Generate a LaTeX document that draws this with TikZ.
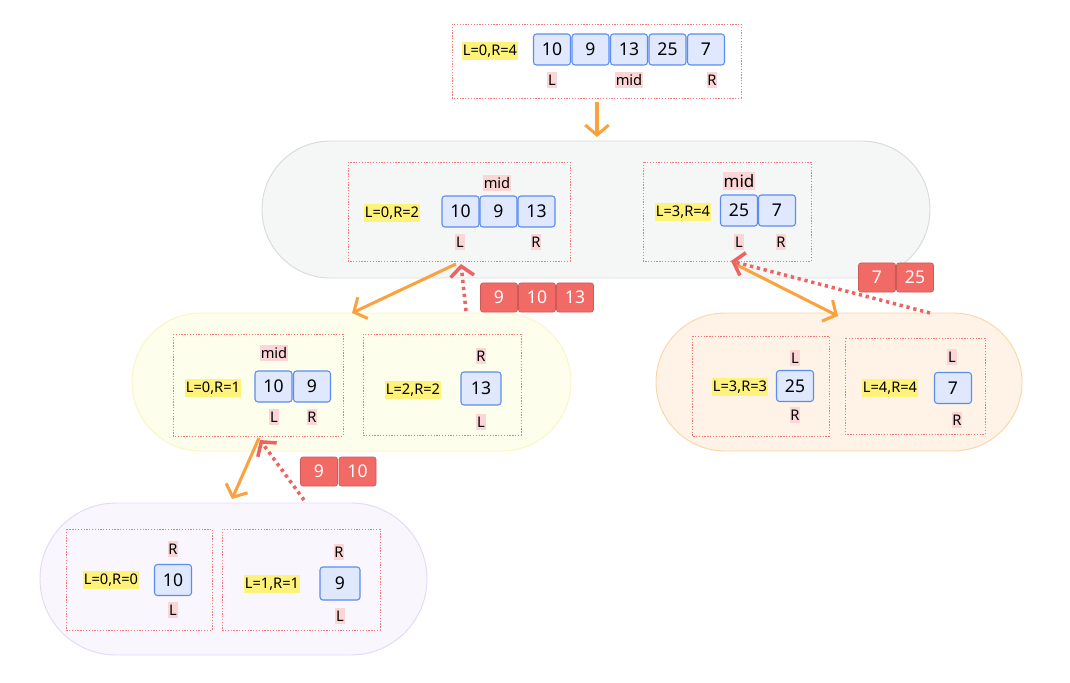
\documentclass[tikz,border=0pt]{standalone}
\usepackage{fontspec}
\setmainfont{Noto Sans}
\usetikzlibrary{arrows.meta}

\definecolor{cellfill}{HTML}{DFE8FC}
\definecolor{celldraw}{HTML}{5B8DEF}
\definecolor{hiyellow}{HTML}{FFF27A}
\definecolor{hipink}{HTML}{FCD6D6}
\definecolor{resred}{HTML}{F26A66}
\definecolor{dotred}{HTML}{F47878}
\definecolor{backred}{HTML}{F06262}
\definecolor{arrorange}{HTML}{F9A23F}
\definecolor{graypill}{HTML}{F5F6F6}
\definecolor{graypilld}{HTML}{D9DADA}
\definecolor{yelpill}{HTML}{FEFEEC}
\definecolor{yelpilld}{HTML}{FAF5C4}
\definecolor{orapill}{HTML}{FEF3E6}
\definecolor{orapilld}{HTML}{FCD5A5}
\definecolor{purpill}{HTML}{F9F6FE}
\definecolor{purpilld}{HTML}{E2DAF6}

\tikzset{
  cell/.style={draw=celldraw, fill=cellfill, line width=0.9pt, rounded corners=2.5pt,
    minimum width=1.11cm, minimum height=0.93cm, inner sep=0pt, font=\fontsize{15}{17}\selectfont},
  res/.style={draw=resred!85!black, fill=resred, line width=0.5pt, rounded corners=2pt,
    minimum width=1.11cm, minimum height=0.87cm, inner sep=0pt, text=white, font=\fontsize{15}{17}\selectfont},
  hl/.style={fill=hiyellow, inner xsep=1pt, inner ysep=2.5pt, font=\fontsize{12.5}{14}\selectfont},
  mk/.style={fill=hipink, inner xsep=0.6pt, inner ysep=2pt, font=\fontsize{12.5}{14}\selectfont},
  frame/.style={draw=dotred, line width=0.8pt, dash pattern=on 1.1pt off 1.3pt},
  ora/.style={draw=arrorange, line width=2.6pt, -{Straight Barb[length=8.5pt,width=20pt]}},
  back/.style={draw=backred, line width=3pt, dash pattern=on 2.8pt off 3.2pt,
    -{Straight Barb[length=8.5pt,width=20pt]}}
}

\begin{document}
\begin{tikzpicture}[x=0.03cm,y=-0.03cm]
  \useasboundingbox (0,0) rectangle (1070,683);

  % top array
  \draw[frame] (452,24) rectangle (741,98);
  \node[hl] (lt) at (490,51) {L=0,R=4};
  \node[cell] (t1) at (552,49.5) {10};
  \node[cell] (t2) at (590.5,49.5) {9};
  \node[cell] (t3) at (629,49.5) {13};
  \node[cell] (t4) at (667.5,49.5) {25};
  \node[cell] (t5) at (706,49.5) {7};
  \node[mk] (tl) at (552,80) {L};
  \node[mk] (tm) at (629,80) {mid};
  \node[mk] (tr) at (712,80) {R};

  % level 1
  \draw[fill=graypill, draw=graypilld, line width=0.8pt, rounded corners=2.05cm] (262,141) rectangle (930,278);
  \draw[frame] (348,162) rectangle (570,261);
  \node[hl] (la) at (392,213) {L=0,R=2};
  \node[cell] (a1) at (460.5,211.5) {10};
  \node[cell] (a2) at (498.5,211.5) {9};
  \node[cell] (a3) at (536.5,211.5) {13};
  \node[mk] (am) at (497,183) {mid};
  \node[mk] (al) at (460,242) {L};
  \node[mk] (ar) at (536,242) {R};

  \draw[frame] (643,162) rectangle (811,261);
  \node[hl] (lb) at (683,212) {L=3,R=4};
  \node[cell] (b1) at (739,210.5) {25};
  \node[cell] (b2) at (777,210.5) {7};
  \node[mk, font=\fontsize{14.5}{16}\selectfont] (bm) at (739,181) {mid};
  \node[mk] (bl) at (739,242) {L};
  \node[mk] (br) at (781,242) {R};

  % level 2 left
  \draw[fill=yelpill, draw=yelpilld, line width=0.8pt, rounded corners=2.07cm] (132,313) rectangle (571,451);
  \draw[frame] (173,334) rectangle (343,436);
  \node[hl] (lc) at (213,388) {L=0,R=1};
  \node[cell] (c1) at (273.5,386.5) {10};
  \node[cell] (c2) at (312,386.5) {9};
  \node[mk] (cm) at (274,353) {mid};
  \node[mk] (cl) at (274,417) {L};
  \node[mk] (cr) at (312,417) {R};

  \draw[frame] (363,334) rectangle (521,435);
  \node[hl] (ld) at (413,390) {L=2,R=2};
  \node[cell, minimum width=1.2cm, minimum height=0.99cm] (d1) at (481,388.5) {13};
  \node[mk] (dr) at (481,356) {R};
  \node[mk] (dl) at (481,422) {L};

  % level 2 right
  \draw[fill=orapill, draw=orapilld, line width=0.8pt, rounded corners=2.07cm] (656,313) rectangle (1022,451);
  \draw[frame] (692,336) rectangle (829,436);
  \node[hl] (le) at (740,387) {L=3,R=3};
  \node[cell] (e1) at (795,386) {25};
  \node[mk] (el) at (795,358) {L};
  \node[mk] (er) at (795,415) {R};

  \draw[frame] (845,338) rectangle (985,434);
  \node[hl] (lf) at (890,388) {L=4,R=4};
  \node[cell] (f1) at (953,388) {7};
  \node[mk] (fl) at (952,357) {L};
  \node[mk] (fr) at (957,420) {R};

  % level 3
  \draw[fill=purpill, draw=purpilld, line width=0.8pt, rounded corners=2.28cm] (40,503) rectangle (427,655);
  \draw[frame] (66,529) rectangle (212,630);
  \node[hl] (lg) at (111,580) {L=0,R=0};
  \node[cell] (g1) at (173,580) {10};
  \node[mk] (gr) at (173,549) {R};
  \node[mk] (gl) at (173,610) {L};

  \draw[frame] (222,529) rectangle (380,630);
  \node[hl] (lh) at (272,584) {L=1,R=1};
  \node[cell, minimum width=1.2cm, minimum height=0.99cm] (h1) at (340,583.5) {9};
  \node[mk] (hr) at (339,552) {R};
  \node[mk] (hl1) at (340,616) {L};

  % merged results
  \node[res] (r1) at (499,297.5) {9};
  \node[res] (r2) at (537,297.5) {10};
  \node[res] (r3) at (575,297.5) {13};
  \node[res] (r4) at (877,277.5) {7};
  \node[res] (r5) at (915,277.5) {25};
  \node[res] (r6) at (319,471.5) {9};
  \node[res] (r7) at (357.5,471.5) {10};

  % arrows
  \coordinate (s0) at (597,102);
  \coordinate (s1) at (597,137);
  \coordinate (p1) at (456,264);
  \coordinate (q1) at (352,313);
  \coordinate (u1) at (466,311);
  \coordinate (v1) at (461,264);
  \coordinate (p2) at (735,264);
  \coordinate (q2) at (838,316);
  \coordinate (u2) at (930,313);
  \coordinate (v2) at (731,261);
  \coordinate (p3) at (259,438);
  \coordinate (q3) at (232,499);
  \coordinate (u3) at (304,500);
  \coordinate (v3) at (260,440);
  \draw[ora] (s0) -- (s1);
  \draw[ora] (p1) -- (q1);
  \draw[ora] (p2) -- (q2);
  \draw[ora] (p3) -- (q3);
  \draw[back] (u1) -- (v1);
  \draw[back] (u2) -- (v2);
  \draw[back] (u3) -- (v3);
\end{tikzpicture}
\end{document}
